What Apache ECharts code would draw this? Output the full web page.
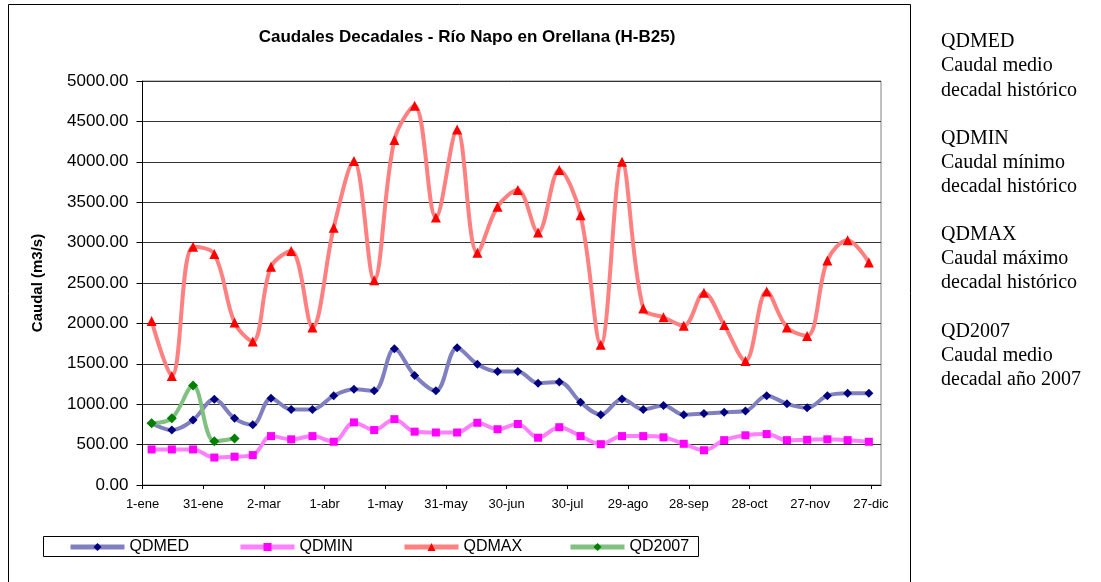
<!DOCTYPE html>
<html>
<head>
<meta charset="utf-8">
<script src="https://cdn.jsdelivr.net/npm/echarts@6/dist/echarts.min.js"></script>
<style>
  html, body { margin: 0; padding: 0; background: #fff; }
  #chart { width: 1101px; height: 582px; }
</style>
</head>
<body>
<div id="chart"></div>
<script>
  // dia central de cada decada (dias desde 1-ene)
  const decadeDays = [4.5, 14.5, 25, 35.5, 45.5, 54.5, 63.5, 73.5, 84, 94.5, 104.5, 114.5,
    124.5, 134.5, 145, 155.5, 165.5, 175.5, 185.5, 195.5, 206, 216.5, 226.5, 237,
    247.5, 257.5, 267.5, 277.5, 287.5, 298, 308.5, 318.5, 328.5, 338.5, 348.5, 359]
  const tickLabels = ['1-ene', '31-ene', '2-mar', '1-abr', '1-may', '31-may', '30-jun',
    '30-jul', '29-ago', '28-sep', '28-oct', '27-nov', '27-dic']

  const qdmed = [765, 680, 805, 1060, 825, 745, 1075, 935, 935, 1105, 1185, 1165,
    1685, 1355, 1165, 1700, 1495, 1405, 1405, 1260, 1275, 1025, 870, 1065,
    935, 985, 870, 885, 900, 915, 1105, 1005, 955, 1105, 1135, 1135]
  const qdmin = [440, 440, 440, 340, 350, 370, 605, 565, 605, 535, 775, 680,
    815, 660, 650, 650, 770, 690, 755, 585, 715, 605, 505, 605,
    605, 590, 510, 430, 555, 615, 630, 555, 560, 565, 555, 535]
  const qdmax = [2030, 1350, 2950, 2860, 2010, 1775, 2700, 2895, 1950, 3185, 4010, 2535,
    4270, 4695, 3310, 4400, 2875, 3445, 3650, 3125, 3900, 3340, 1735, 4000,
    2185, 2075, 1970, 2380, 1980, 1535, 2395, 1950, 1845, 2780, 3030, 2755]
  const qd2007 = [765, 825, 1230, 540, 575]

  const seriesNames = ['QDMED', 'QDMIN', 'QDMAX', 'QD2007']

  const pairs = vals => vals.map((v, i) => [decadeDays[i], v])

  const chart = echarts.init(document.getElementById('chart'))

  //serie con linea suavizada
  const serie = (name, vals, lineColor, markColor, symbol, size) => ({
    name: name,
    type: 'line',
    data: pairs(vals),
    smooth: 0.35,
    symbol: symbol,
    symbolSize: size,
    lineStyle: { color: lineColor, width: 4 },
    itemStyle: { color: markColor },
    emphasis: { disabled: true }
  })

  //una leyenda por serie, en casillas de igual ancho
  const legendSlots = [68, 238, 402, 568]
  const legends = seriesNames.map((n, i) => ({
    left: legendSlots[i], top: 539, padding: 0,
    itemWidth: 54, itemHeight: 10,
    lineStyle: { width: 5 },
    textStyle: { fontSize: 16, color: '#000' },
    data: [n]
  }))

  const option = {
    animation: false,
    textStyle: { fontFamily: 'Liberation Sans, Arial, sans-serif' },
    title: {
      text: 'Caudales Decadales - Río Napo en Orellana (H-B25)',
      left: 462,
      top: 24,
      textAlign: 'center',
      textStyle: { fontSize: 17, fontWeight: 'bold', color: '#000' }
    },
    grid: {
      left: 142.5, top: 81, width: 738.5, height: 404,
      show: true, borderColor: '#808080', borderWidth: 1
    },
    legend: legends,
    xAxis: {
      type: 'value',
      min: 0, max: 365, interval: 30,
      axisLine: { lineStyle: { color: '#000', width: 1 } },
      axisTick: { show: true, length: 4, lineStyle: { color: '#000' } },
      splitLine: { show: false },
      axisLabel: {
        fontSize: 13, color: '#000', margin: 13, showMaxLabel: false,
        formatter: v => tickLabels[v / 30] || ''
      }
    },
    yAxis: {
      type: 'value',
      min: 0, max: 5000, interval: 500,
      name: 'Caudal (m3/s)',
      nameLocation: 'middle',
      nameRotate: 90,
      nameGap: 97,
      nameTextStyle: { fontSize: 15, fontWeight: 'bold', color: '#000' },
      axisLine: { show: true, lineStyle: { color: '#000', width: 1 } },
      axisTick: { show: true, length: 6, lineStyle: { color: '#000' } },
      splitLine: { lineStyle: { color: '#333', width: 1 } },
      axisLabel: {
        fontSize: 17, color: '#000', margin: 14,
        formatter: v => v.toFixed(2)
      }
    },
    graphic: [
      {
        type: 'rect', z: -1,
        shape: { x: 8.5, y: 4.5, width: 902, height: 600 },
        style: { fill: 'none', stroke: '#000', lineWidth: 1 }
      },
      {
        type: 'rect',
        shape: { x: 43.5, y: 536.5, width: 655, height: 20 },
        style: { fill: 'none', stroke: '#000', lineWidth: 1 }
      },
      {
        type: 'text', left: 941, top: 30,
        style: {
          text: 'QDMED\nCaudal medio\ndecadal histórico\n\nQDMIN\nCaudal mínimo\ndecadal histórico\n\n' +
            'QDMAX\nCaudal máximo\ndecadal histórico\n\nQD2007\nCaudal medio\ndecadal año 2007',
          font: '20px "Liberation Serif", "Times New Roman", serif',
          lineHeight: 24.1,
          fill: '#000'
        }
      }
    ],
    series: [
      serie('QDMED', qdmed, '#8080c0', '#000080', 'diamond', 9),
      serie('QDMIN', qdmin, '#ff80ff', '#ff00ff', 'rect', 8),
      serie('QDMAX', qdmax, '#ff8080', '#ff0000', 'triangle', 10),
      serie('QD2007', qd2007, '#80c080', '#008000', 'diamond', 10)
    ]
  }

  chart.setOption(option)
</script>
</body>
</html>
